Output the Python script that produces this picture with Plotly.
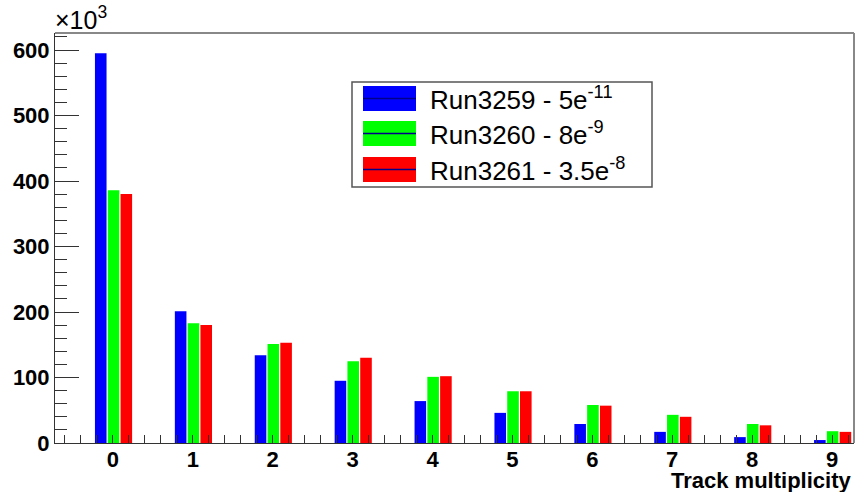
import plotly.graph_objects as go

# Track multiplicity histogram for three runs (counts in thousands)
multiplicity = [0, 1, 2, 3, 4, 5, 6, 7, 8, 9]
run3259 = [595, 201, 134, 95, 64, 46, 29, 17, 9, 4.5]
run3260 = [386, 183, 151, 125, 101, 79, 58, 43, 29, 18]
run3261 = [380, 180, 153, 130, 102, 79, 57, 40, 27, 17]

series_names = ["Run3259 - 5e<sup>-11</sup>",
                "Run3260 - 8e<sup>-9</sup>",
                "Run3261 - 3.5e<sup>-8</sup>"]
series_values = [run3259, run3260, run3261]
series_colors = ["#0000ff", "#00ff00", "#ff0000"]
bar_offsets = [-0.225, -0.065, 0.095]
bar_width = 0.145

W, H = 856, 492
ML, MR, MT, MB = 55, 2, 33, 49
PW, PH = W - ML - MR, H - MT - MB


def px(x):
    return (x - ML) / PW


def py(y):
    return (H - MB - y) / PH


fig = go.Figure()
for name, vals, col, off in zip(series_names, series_values, series_colors, bar_offsets):
    fig.add_trace(go.Bar(
        x=multiplicity, y=vals, name=name,
        marker=dict(color=col, line=dict(width=0)),
        width=bar_width, offset=off, showlegend=False,
    ))

tick_font = dict(family="Liberation Sans, Arial, sans-serif", size=22, color="black", weight="bold")

fig.update_layout(
    width=W, height=H,
    margin=dict(l=ML, r=MR, t=MT, b=MB, pad=0),
    paper_bgcolor="white", plot_bgcolor="white",
    barmode="overlay",
    xaxis=dict(
        range=[-0.725, 9.275], tickmode="array", tickvals=multiplicity,
        ticktext=[str(m) for m in multiplicity],
        ticks="inside", ticklen=8, tickcolor="#333", tickwidth=1,
        minor=dict(dtick=0.2, tick0=0, ticks="inside", ticklen=8, tickcolor="#333"),
        showgrid=False, zeroline=False, showline=True, linecolor="#333", linewidth=1,
        tickfont=tick_font, layer="above traces", ticklabelstandoff=-3,
    ),
    yaxis=dict(
        range=[0, 626], tick0=0, dtick=100,
        ticks="inside", ticklen=24, tickcolor="#333", tickwidth=1,
        minor=dict(dtick=20, ticks="inside", ticklen=12, tickcolor="#333"),
        showgrid=False, zeroline=False, showline=True, linecolor="#333", linewidth=1,
        tickfont=tick_font, layer="above traces",
    ),
)

# Frame: top and right borders
fig.add_shape(type="line", xref="paper", yref="paper", x0=0, x1=1, y0=1, y1=1,
              line=dict(color="#888", width=2))
fig.add_shape(type="line", xref="paper", yref="paper", x0=1, x1=1, y0=0, y1=1,
              line=dict(color="#888", width=2))

# Axis exponent and title
fig.add_annotation(xref="paper", yref="paper", x=0, y=1, xanchor="left", yanchor="bottom",
                   yshift=-3, xshift=-2, text="×10<sup>3</sup>", showarrow=False,
                   font=dict(family="Liberation Sans, Arial, sans-serif", size=25, color="black"))
fig.add_annotation(xref="paper", yref="paper", x=px(853), y=py(480), xanchor="right",
                   yanchor="middle", text="Track multiplicity", showarrow=False,
                   font=dict(family="Liberation Sans, Arial, sans-serif", size=22,
                             color="black", weight="bold"))

# Legend box
fig.add_shape(type="rect", xref="paper", yref="paper",
              x0=px(352), x1=px(652), y0=py(187), y1=py(82),
              line=dict(color="#555", width=1.5), fillcolor="white", layer="above")
row_centers = [98.5, 133.5, 169.5]
for name, col, yc in zip(series_names, series_colors, row_centers):
    fig.add_shape(type="rect", xref="paper", yref="paper",
                  x0=px(363), x1=px(416), y0=py(yc + 12.5), y1=py(yc - 12.5),
                  line=dict(width=0), fillcolor=col, layer="above")
    fig.add_shape(type="line", xref="paper", yref="paper",
                  x0=px(363), x1=px(416), y0=py(yc), y1=py(yc),
                  line=dict(color="#00008b", width=1.5), layer="above")
    fig.add_annotation(xref="paper", yref="paper", x=px(428), y=py(yc), xanchor="left",
                       yanchor="middle", text=name, showarrow=False,
                       font=dict(family="Liberation Sans, Arial, sans-serif", size=26,
                                 color="black"))

fig.write_html("out.html")
